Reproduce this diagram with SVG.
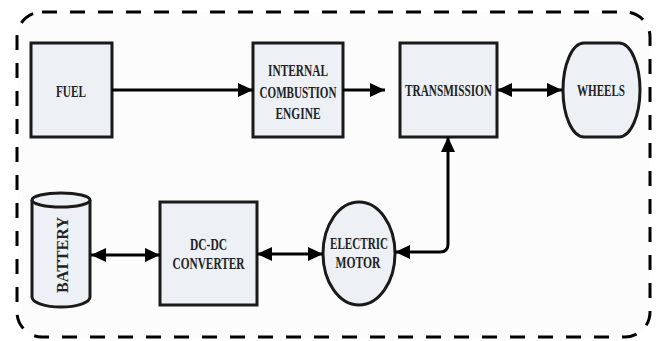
<svg xmlns="http://www.w3.org/2000/svg" width="657" height="341" viewBox="0 0 657 341">
<defs>
<style>
.node{fill:#edf0f5;stroke:#1a1a1a;stroke-width:3}
.lbl{font-family:"Liberation Serif","Times New Roman",serif;font-weight:bold;font-size:16px;fill:#222;text-anchor:middle}
.conn{fill:none;stroke:#000;stroke-width:3}
</style>
<marker id="ah" markerUnits="userSpaceOnUse" markerWidth="16" markerHeight="15" refX="15" refY="7" orient="auto-start-reverse">
<path d="M0,0 L15,7 L0,14 Z" fill="#000"/>
</marker>
</defs>
<rect x="17" y="12" width="633" height="325" rx="25" ry="25" fill="#fcfcfc" stroke="#000" stroke-width="3" stroke-dasharray="15 13"/>
<g id="fuel">
<rect class="node" x="31" y="43" width="81" height="94"/>
<text class="lbl" x="71" y="97" textLength="30" lengthAdjust="spacingAndGlyphs">FUEL</text>
</g>
<g id="ice">
<rect class="node" x="253" y="43" width="90" height="94"/>
<text class="lbl" x="298" y="76" textLength="60" lengthAdjust="spacingAndGlyphs">INTERNAL</text>
<text class="lbl" x="298" y="97.5" textLength="77" lengthAdjust="spacingAndGlyphs">COMBUSTION</text>
<text class="lbl" x="298" y="119" textLength="45" lengthAdjust="spacingAndGlyphs">ENGINE</text>
</g>
<g id="transmission">
<rect class="node" x="400" y="43" width="97" height="94"/>
<text class="lbl" x="448.5" y="96" textLength="87" lengthAdjust="spacingAndGlyphs">TRANSMISSION</text>
</g>
<g id="wheels">
<path class="node" d="M584,43 H619 A21,47 0 0 1 619,137 H584 A21,47 0 0 1 584,43 Z"/>
<text class="lbl" x="601" y="96" textLength="48" lengthAdjust="spacingAndGlyphs">WHEELS</text>
</g>
<g id="battery">
<path class="node" d="M32,200 A29,7 0 0 1 90,200 V297 A29,10 0 0 1 32,297 Z"/>
<path class="node" fill="none" d="M32,200 A29,7 0 0 0 90,200"/>
<text class="lbl" transform="translate(68,255) rotate(-90)" x="0" y="0" textLength="76" lengthAdjust="spacingAndGlyphs">BATTERY</text>
</g>
<g id="dcdc">
<rect class="node" x="160" y="202" width="97" height="103"/>
<text class="lbl" x="208.5" y="250" textLength="37" lengthAdjust="spacingAndGlyphs">DC-DC</text>
<text class="lbl" x="208.5" y="269" textLength="72" lengthAdjust="spacingAndGlyphs">CONVERTER</text>
</g>
<g id="motor">
<ellipse class="node" cx="359" cy="253.5" rx="36" ry="51.5"/>
<text class="lbl" x="359" y="249" textLength="58" lengthAdjust="spacingAndGlyphs">ELECTRIC</text>
<text class="lbl" x="358" y="268" textLength="45" lengthAdjust="spacingAndGlyphs">MOTOR</text>
</g>
<g id="connectors">
<line class="conn" x1="112" y1="90" x2="253" y2="90" marker-end="url(#ah)"/>
<line class="conn" x1="343" y1="90" x2="385" y2="90" marker-end="url(#ah)"/>
<line class="conn" x1="497" y1="90" x2="562" y2="90" marker-start="url(#ah)" marker-end="url(#ah)"/>
<line class="conn" x1="91" y1="255" x2="160" y2="255" marker-start="url(#ah)" marker-end="url(#ah)"/>
<line class="conn" x1="257" y1="254" x2="323" y2="254" marker-start="url(#ah)" marker-end="url(#ah)"/>
<path class="conn" d="M395,252 H440 Q448,252 448,244 V137" marker-start="url(#ah)" marker-end="url(#ah)"/>
</g>
</svg>
